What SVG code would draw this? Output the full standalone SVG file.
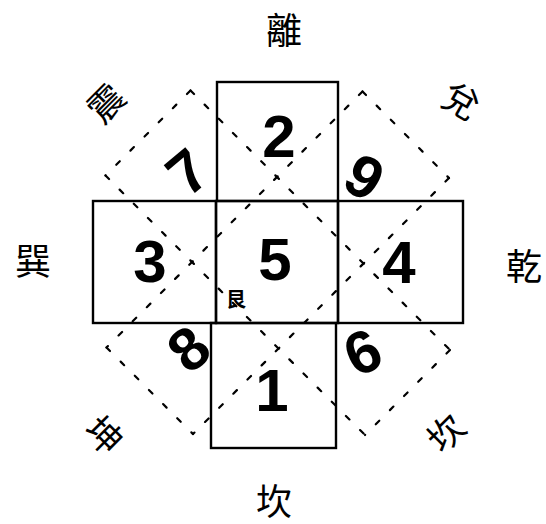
<svg xmlns="http://www.w3.org/2000/svg" width="546" height="524" viewBox="0 0 546 524">
<style>
.box{fill:none;stroke:#000;stroke-width:2.4}
.dash{fill:none;stroke:#000;stroke-width:2.2;stroke-dasharray:5 15;stroke-linecap:round}
.num{font-family:"Liberation Sans",Arial,sans-serif;font-weight:bold;font-size:60px;text-anchor:middle;fill:#000}
.lab{font-family:"Noto Sans CJK TC","Noto Sans CJK SC",sans-serif;font-size:36px;text-anchor:middle;fill:#000}
.sm{font-family:"Noto Sans CJK TC","Noto Sans CJK SC",sans-serif;font-size:20px;font-weight:bold;text-anchor:middle;fill:#000}
</style>
<rect width="546" height="524" fill="#fff"/>
<g id="connectors">
<line class="dash" x1="190.5" y1="90.5" x2="105.5" y2="175.5"/>
<line class="dash" x1="362.5" y1="91.5" x2="106.5" y2="347.5"/>
<line class="dash" x1="449" y1="178" x2="193" y2="434"/>
<line class="dash" x1="450" y1="350" x2="365" y2="435"/>
<line class="dash" x1="362.5" y1="91.5" x2="449" y2="178"/>
<line class="dash" x1="190.5" y1="90.5" x2="450" y2="350"/>
<line class="dash" x1="105.5" y1="175.5" x2="365" y2="435"/>
<line class="dash" x1="106.5" y1="347.5" x2="193" y2="434"/>
</g>
<g id="node-2"><rect class="box" x="217" y="82" width="121" height="119"/><text class="num" x="279" y="157">2</text></g>
<g id="node-3"><rect class="box" x="93" y="201" width="123" height="122"/><text class="num" x="150" y="282">3</text></g>
<g id="node-5"><rect class="box" x="216" y="201" width="122" height="122"/><text class="num" x="275" y="280">5</text><text class="sm" x="236" y="307">艮</text></g>
<g id="node-4"><rect class="box" x="338" y="201" width="125" height="122"/><text class="num" x="399" y="283">4</text></g>
<g id="node-1"><rect class="box" x="211" y="323" width="125" height="125"/><text class="num" x="272" y="411">1</text></g>
<g id="node-7"><text class="num" x="187" y="193" transform="rotate(-40 187 171)">7</text></g>
<g id="node-9"><text class="num" x="365" y="198" transform="rotate(30 365 176)">9</text></g>
<g id="node-8"><text class="num" x="188" y="370" transform="rotate(-40 188 348)">8</text></g>
<g id="node-6"><text class="num" x="362" y="373" transform="rotate(-25 362 351)">6</text></g>
<g id="labels">
<text class="lab" x="284" y="44" font-size="32">離</text>
<text class="lab" x="274" y="515">坎</text>
<text class="lab" x="33" y="275">巽</text>
<text class="lab" x="524" y="280">乾</text>
<text class="lab" x="107" y="116" font-size="32" transform="rotate(-45 107 104)">震</text>
<text class="lab" x="460" y="114" font-size="32" transform="rotate(30 460 102)">兌</text>
<text class="lab" x="103" y="448" font-size="32" transform="rotate(45 103 436)">坤</text>
<text class="lab" x="447" y="446" font-size="32" transform="rotate(-45 447 434)">坎</text>
</g>
</svg>
